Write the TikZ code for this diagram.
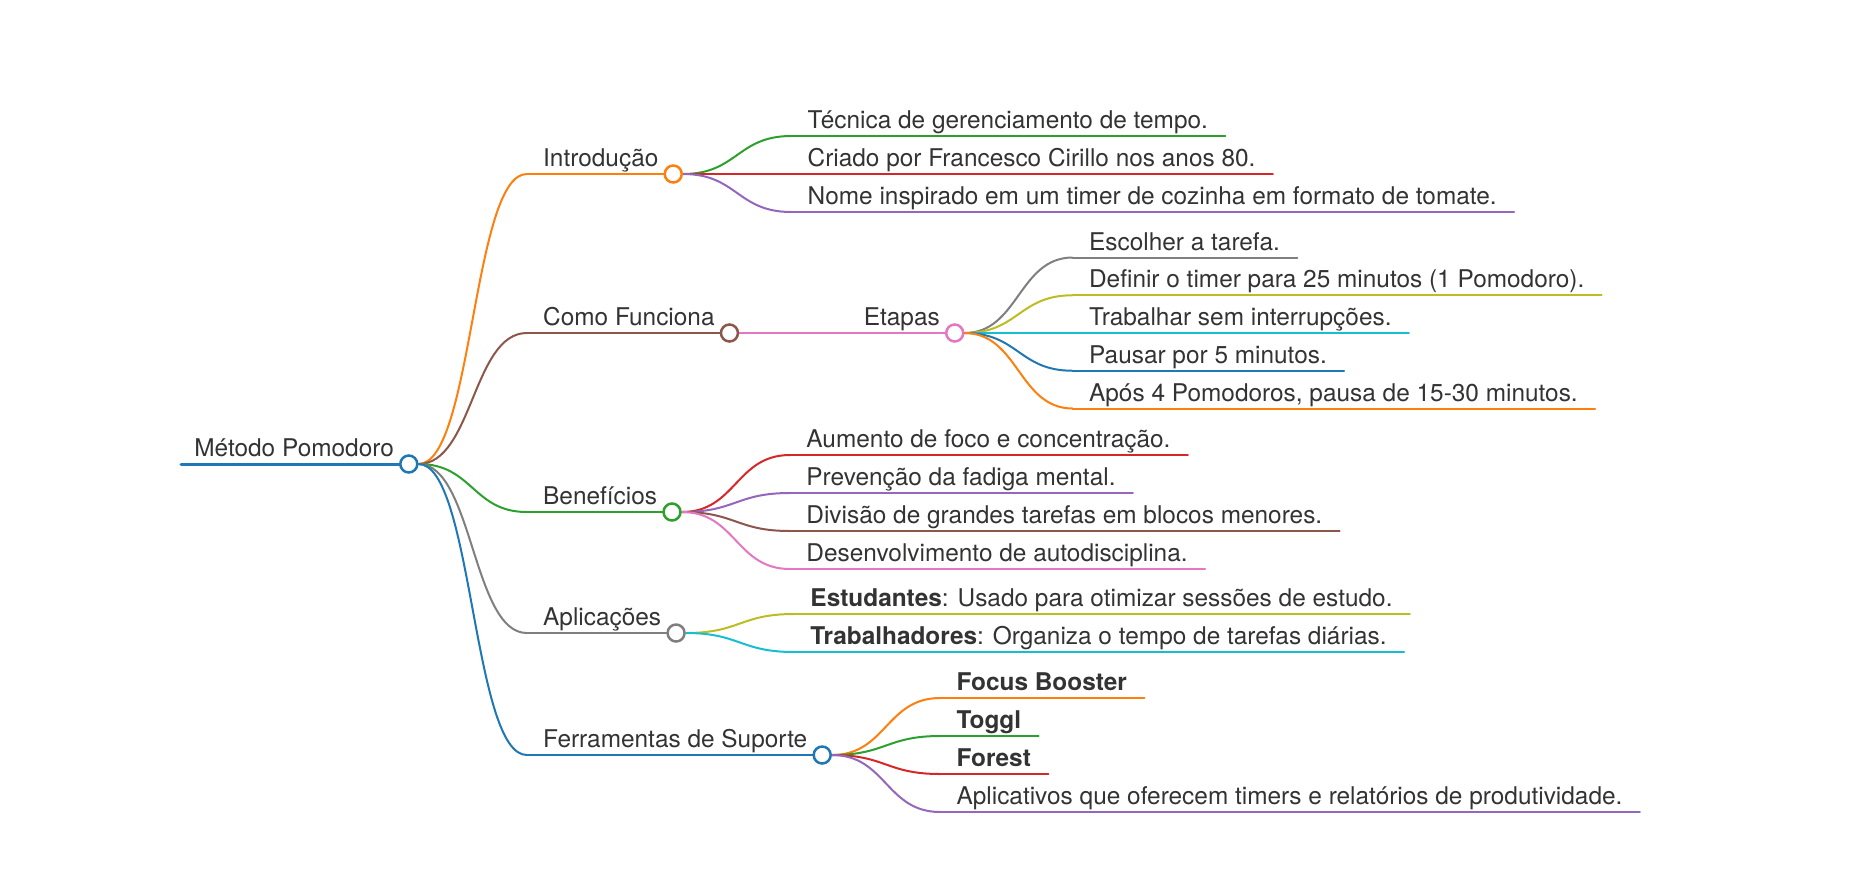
\documentclass[tikz,border=0pt]{standalone}
\usepackage{fontspec}
\setmainfont{TeX Gyre Heros}
\usetikzlibrary{calc,backgrounds}
\definecolor{mblue}{HTML}{1F77B4}
\definecolor{morange}{HTML}{FF7F0E}
\definecolor{mgreen}{HTML}{2CA02C}
\definecolor{mred}{HTML}{D62728}
\definecolor{mpurple}{HTML}{9467BD}
\definecolor{mbrown}{HTML}{8C564B}
\definecolor{mpink}{HTML}{E377C2}
\definecolor{mgray}{HTML}{7F7F7F}
\definecolor{molive}{HTML}{BCBD22}
\definecolor{mcyan}{HTML}{17BECF}
\definecolor{mtext}{HTML}{333333}
\tikzset{
  txt/.style={anchor=base west, inner sep=0pt, font=\fontsize{12.2pt}{14pt}\selectfont, text=mtext},
  uline/.style={line width=1pt, line cap=round},
  link/.style={line width=1pt},
  dot/.style={circle, fill=white, line width=1.25pt, minimum size=8.5pt, inner sep=0pt}
}
\newcommand\mmlink[3]{%
  \draw[link,#3] let \p1=(#1.east), \p2=(#2) in (\p1) .. controls ({0.5*\x1+0.5*\x2},\y1) and ({0.5*\x1+0.5*\x2},\y2) .. (\p2);}
\newcommand\mmleaf[5]{%
  \node[txt] (#1) at ($(#2.center)+(134,#3-7.5)$) {#5};
  \coordinate (#1-s) at ($(#1.base west)+(-16,7.5)$);
  \coordinate (#1-e) at ($(#1.base east)+(17,7.5)$);
  \begin{scope}[on background layer]
    \draw[uline,#4] (#1-s) -- (#1-e);
    \mmlink{#2}{#1-s}{#4}
  \end{scope}}
\newcommand\mmbranch[6]{%
  \node[txt] (#1) at ($(#2.center)+(134,#3-7.5)$) {#5};
  \coordinate (#1-s) at ($(#1.base west)+(-16,7.5)$);
  \node[dot,draw=#4] (#6) at ($(#1.base east)+(14.5,7.5)$) {};
  \begin{scope}[on background layer]
    \draw[uline,#4] (#1-s) -- (#6.center);
    \mmlink{#2}{#1-s}{#4}
  \end{scope}}
\begin{document}
\begin{tikzpicture}[x=0.5pt,y=-0.5pt]
\useasboundingbox (0,0) rectangle (1859,880);
% root
\node[txt] (root) at (194,456.5) {Método Pomodoro};
\coordinate (root-s) at ($(root.base west)+(-13,7.5)$);
\node[dot,draw=mblue] (c0) at ($(root.base east)+(14.5,7.5)$) {};
\begin{scope}[on background layer]
  \draw[uline,mblue,line width=1.5pt] (root-s) -- (c0.center);
\end{scope}
% level 1
\mmbranch{intro}{c0}{-290}{morange}{Introdução}{cintro}
\mmbranch{como}{c0}{-131}{mbrown}{Como Funciona}{ccomo}
\mmbranch{bene}{c0}{48}{mgreen}{Benefícios}{cbene}
\mmbranch{apli}{c0}{169}{mgray}{Aplicações}{capli}
\mmbranch{ferr}{c0}{291}{mblue}{Ferramentas de Suporte}{cferr}
% Introducao
\mmleaf{i1}{cintro}{-38}{mgreen}{Técnica de gerenciamento de tempo.}
\mmleaf{i2}{cintro}{0}{mred}{Criado por Francesco Cirillo nos anos 80.}
\mmleaf{i3}{cintro}{38}{mpurple}{Nome inspirado em um timer de cozinha em formato de tomate.}
% Como Funciona
\mmbranch{etapas}{ccomo}{0}{mpink}{Etapas}{cetapas}
\mmleaf{e1}{cetapas}{-75.5}{mgray}{Escolher a tarefa.}
\mmleaf{e2}{cetapas}{-37.75}{molive}{Definir o timer para 25 minutos (1 Pomodoro).}
\mmleaf{e3}{cetapas}{0}{mcyan}{Trabalhar sem interrupções.}
\mmleaf{e4}{cetapas}{37.75}{mblue}{Pausar por 5 minutos.}
\mmleaf{e5}{cetapas}{75.5}{morange}{Após 4 Pomodoros, pausa de 15-30 minutos.}
% Beneficios
\mmleaf{b1}{cbene}{-57}{mred}{Aumento de foco e concentração.}
\mmleaf{b2}{cbene}{-19}{mpurple}{Prevenção da fadiga mental.}
\mmleaf{b3}{cbene}{19}{mbrown}{Divisão de grandes tarefas em blocos menores.}
\mmleaf{b4}{cbene}{57}{mpink}{Desenvolvimento de autodisciplina.}
% Aplicacoes
\mmleaf{a1}{capli}{-19}{molive}{\textbf{Estudantes}: Usado para otimizar sessões de estudo.}
\mmleaf{a2}{capli}{19}{mcyan}{\textbf{Trabalhadores}: Organiza o tempo de tarefas diárias.}
% Ferramentas
\mmleaf{f1}{cferr}{-57}{morange}{\textbf{Focus Booster}}
\mmleaf{f2}{cferr}{-19}{mgreen}{\textbf{Toggl}}
\mmleaf{f3}{cferr}{19}{mred}{\textbf{Forest}}
\mmleaf{f4}{cferr}{57}{mpurple}{Aplicativos que oferecem timers e relatórios de produtividade.}
\end{tikzpicture}
\end{document}
